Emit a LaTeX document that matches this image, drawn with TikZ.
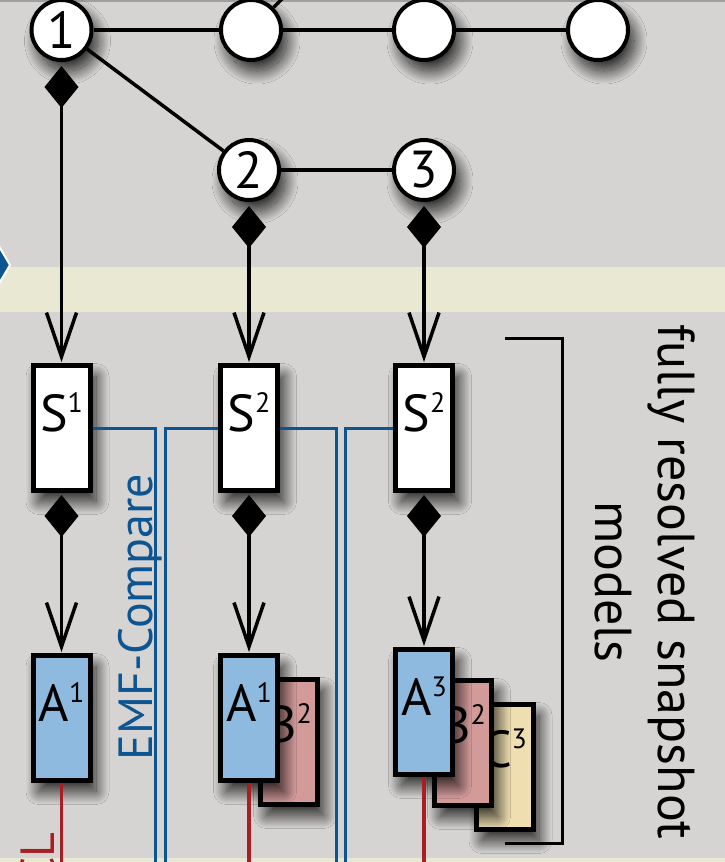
\documentclass[tikz,border=0pt]{standalone}
\usepackage{fontspec}
\setmainfont{PT Sans}
\usetikzlibrary{arrows.meta,shadows.blur}

\definecolor{bgGray}{HTML}{D5D4D2}
\definecolor{bandBeige}{HTML}{E9E8D3}
\definecolor{boxBlue}{HTML}{8FBADF}
\definecolor{boxRed}{HTML}{D39A9A}
\definecolor{boxYellow}{HTML}{EEDEB0}
\definecolor{cmpBlue}{HTML}{0D5590}
\definecolor{oclRed}{HTML}{A81E22}

% small raised index for the model names
\newcommand{\upidx}[1]{\raisebox{19pt}{\fontsize{28}{28}\selectfont #1}}

\begin{document}
\begin{tikzpicture}[x=1pt,y=-1pt,
  shade/.style={blur shadow={shadow xshift=6pt,shadow yshift=-11pt,shadow blur radius=13pt,shadow blur steps=40,shadow opacity=85}},
  state/.style={circle,draw,line width=4pt,fill=white,minimum size=60pt,inner sep=0pt,shade,font=\fontsize{52}{52}\selectfont},
  snapbox/.style={rectangle,draw,line width=5pt,minimum width=57pt,minimum height=125pt,inner sep=0pt,shade,font=\fontsize{52}{52}\selectfont,text height=6pt,text depth=0pt},
  link/.style={line width=3.5pt},
  comp/.style={line width=3.5pt,arrows={Diamond[length=42pt,width=34pt]-Straight Barb[length=44pt,width=30pt]},shorten <=4pt,shorten >=1pt},
  cmp/.style={cmpBlue,line width=3pt},
  ocl/.style={oclRed,line width=3.5pt}]

% Set the frame
\useasboundingbox (0,0) rectangle (725,862);
\clip (0,0) rectangle (725,862);
\fill[bgGray] (0,0) rectangle (725,862);
\fill[bandBeige] (0,267) rectangle (725,312);
\fill[bandBeige] (0,858) rectangle (725,862);
\draw[gray!75,line width=2pt] (0,1) -- (725,1);
\fill[cmpBlue,draw=white,line width=2pt] (10,265) -- (-20,214) -- (-50,265) -- (-20,316) -- cycle;

% Draw the version tree
\node[state] (r1) at (61.5,30) {1};
\node[state] (r2) at (251,30) {};
\node[state] (r3) at (424,30) {};
\node[state] (r4) at (598,30) {};
\node[state] (m2) at (249,170) {2};
\node[state] (m3) at (424,170) {3};
\coordinate (r2out) at (291,-10);
\draw[link] (r1) -- (r2);
\draw[link] (r2) -- (r3);
\draw[link] (r3) -- (r4);
\draw[link] (r2) -- (r2out);
\draw[link] (r1) -- (m2);
\draw[link] (m2) -- (m3);

% Draw the snapshots
\node[snapbox,fill=white] (S1) at (61.5,428) {S\upidx{1}};
\node[snapbox,fill=white] (S2) at (249,428) {S\upidx{2}};
\node[snapbox,fill=white] (S3) at (424,428) {S\upidx{2}};
\draw[comp] (r1) -- (S1);
\draw[comp] (m2) -- (S2);
\draw[comp] (m3) -- (S3);

% Draw the models of each snapshot
\node[snapbox,fill=boxBlue] (A1) at (61.5,718) {A\upidx{1}};
\node[snapbox,fill=boxRed,text height=0pt] (B2) at (289,742) {B\upidx{2}};
\node[snapbox,fill=boxBlue] (A2) at (249,718) {A\upidx{1}};
\node[snapbox,fill=boxYellow,text height=0pt] (C3) at (504.5,767) {C\upidx{3}};
\node[snapbox,fill=boxRed,text height=0pt] (B3) at (463,743) {B\upidx{2}};
\node[snapbox,fill=boxBlue] (A3) at (424,712) {A\upidx{3}};
\draw[comp,shorten <=2pt] (S1) -- (A1);
\draw[comp,shorten <=2pt] (S2) -- (A2);
\draw[comp,shorten <=2pt] (S3) -- (A3);

% Draw the compare and OCL lines
\draw[cmp] (S1.east) -| (155,870);
\draw[cmp] (S2.west) -| (165,870);
\draw[cmp] (S2.east) -| (336,870);
\draw[cmp] (S3.west) -| (345,870);
\draw[ocl] (A1.south) -- ++(0,100);
\draw[ocl] (A2.south) -- ++(0,100);
\draw[ocl] (A3.south) -- ++(0,100);
\node[rotate=90,anchor=base west,text=cmpBlue,font=\fontsize{48}{48}\selectfont] (emf) at (152,764) {EMF-Compare};
\node[rotate=90,anchor=base east,text=oclRed,font=\fontsize{48}{48}\selectfont] (ocltext) at (54,829) {CL};

% Bracket and its label
\draw[line width=3pt] (505,338) -- (562,338) -- (562,843) -- (505,843);
\node[rotate=-90,align=center,font=\fontsize{52}{63}\selectfont] (fullyres) at (645,582) {fully resolved snapshot\\models};
\end{tikzpicture}
\end{document}
